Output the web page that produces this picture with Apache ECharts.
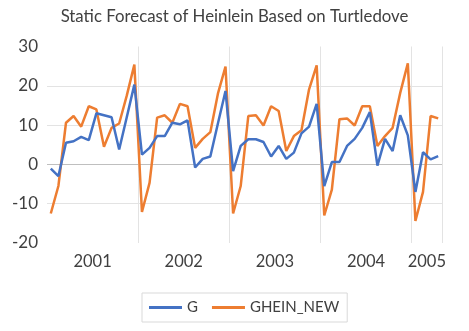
<!DOCTYPE html>
<html>
<head>
<meta charset="utf-8">
<script src="https://cdn.jsdelivr.net/npm/echarts@6/dist/echarts.min.js"></script>
<style>html,body{margin:0;padding:0;background:#fff;}#c{width:469px;height:331px;}</style>
</head>
<body>
<div id="c"></div>
<script>
var years = ['2001', '2002', '2003', '2004', '2005'];
var monthsPerYear = [12, 12, 12, 12, 4];
var seriesNames = ['G', 'GHEIN_NEW'];
var yTicks = [-20, -10, 0, 10, 20, 30];

var G = [
  -1.1, -3.0, 5.5, 5.9, 7.0, 6.2, 13.0, 12.5, 12.0, 3.8, 12.0, 20.3,
  2.5, 4.2, 7.2, 7.2, 10.6, 10.2, 11.2, -0.8, 1.4, 2.0, 10.4, 18.7,
  -1.7, 4.7, 6.4, 6.4, 5.7, 2.0, 4.7, 1.4, 3.0, 7.9, 9.6, 15.4,
  -5.5, 0.6, 0.6, 4.7, 6.5, 9.3, 13.3, -0.3, 6.5, 3.4, 12.5, 7.4,
  -7.0, 3.1, 1.3, 2.1
];
var GHEIN_NEW = [
  -12.5, -5.5, 10.6, 12.3, 9.6, 14.8, 14.0, 4.5, 9.3, 10.4, 17.5, 25.4,
  -12.1, -4.7, 11.9, 12.5, 10.6, 15.4, 14.8, 4.2, 6.5, 8.2, 18.0, 24.9,
  -12.5, -5.5, 12.3, 12.5, 9.9, 14.8, 13.6, 3.4, 7.2, 8.7, 19.1, 25.2,
  -13.0, -6.4, 11.5, 11.7, 9.9, 14.8, 14.8, 4.7, 7.2, 9.3, 18.2, 25.7,
  -14.4, -7.0, 12.3, 11.7
];

var categories = [];
var yearLabelIndex = {};
var yearStartIndex = {};
years.forEach(function (y, k) {
  var n = monthsPerYear[k];
  yearStartIndex[categories.length] = true;
  yearLabelIndex[categories.length + Math.floor(n / 2)] = y;
  for (var m = 1; m <= n; m++) {
    categories.push(y + '-' + (m < 10 ? '0' + m : m));
  }
});

var FONT = 'Lato, "Open Sans", sans-serif';
var chart = echarts.init(document.getElementById('c'), null, {renderer: 'canvas'});
chart.setOption({
  animation: false,
  backgroundColor: '#ffffff',
  title: {
    text: 'Static Forecast of Heinlein Based on Turtledove',
    left: 'center',
    top: 3,
    textStyle: {fontFamily: FONT, fontSize: 16.8, fontWeight: 'normal', color: '#404040'}
  },
  legend: {
    data: seriesNames,
    top: 293,
    left: 142,
    icon: 'rect',
    itemWidth: 33,
    itemHeight: 3,
    itemGap: 14,
    padding: [7, 8, 7, 7],
    borderColor: '#d9d9d9',
    borderWidth: 1,
    textStyle: {fontFamily: FONT, fontSize: 15, color: '#404040'}
  },
  grid: {left: 47, right: 27, top: 46.5, bottom: 88, containLabel: false},
  xAxis: {
    type: 'category',
    data: categories,
    boundaryGap: true,
    axisLine: {show: false, onZero: false},
    axisTick: {show: false},
    splitLine: {
      show: true,
      interval: function (index) { return index > 0 && yearStartIndex[index] === true; },
      lineStyle: {color: '#e3e3e3', width: 1}
    },
    axisLabel: {
      interval: 0,
      margin: 10,
      padding: [0, 7.6, 0, 0],
      fontFamily: FONT,
      fontSize: 16.5,
      color: '#404040',
      formatter: function (value, index) { return yearLabelIndex[index] || ''; }
    }
  },
  yAxis: {
    type: 'value',
    min: yTicks[0],
    max: yTicks[yTicks.length - 1],
    interval: 10,
    axisLine: {show: false},
    axisTick: {show: false},
    axisLabel: {fontFamily: FONT, fontSize: 17, color: '#404040', margin: 9},
    splitLine: {
      show: true,
      lineStyle: {color: ['rgba(0,0,0,0)', '#e3e3e3', '#bfbfbf', '#e3e3e3', '#e3e3e3', 'rgba(0,0,0,0)'], width: 1}
    }
  },
  series: [
    {
      name: seriesNames[0], type: 'line', data: G, symbol: 'none',
      lineStyle: {color: '#4472C4', width: 2.5}, itemStyle: {color: '#4472C4'}, z: 3
    },
    {
      name: seriesNames[1], type: 'line', data: GHEIN_NEW, symbol: 'none',
      lineStyle: {color: '#ED7D31', width: 2.5}, itemStyle: {color: '#ED7D31'}, z: 2
    }
  ]
});
</script>
</body>
</html>
